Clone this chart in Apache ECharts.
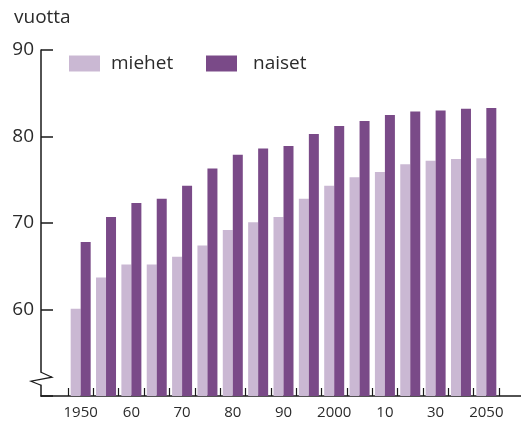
<!DOCTYPE html>
<html>
<head>
<meta charset="utf-8">
<script src="https://cdn.jsdelivr.net/npm/echarts@6/dist/echarts.min.js"></script>
<style>
html,body{margin:0;padding:0;background:#fff;}
#chart{width:521px;height:423px;}
</style>
</head>
<body>
<div id="chart"></div>
<script>
// Data
const categories = ['1950','1955','1960','1965','1970','1975','1980','1985','1990','1995','2000','2005','2010','2020','2030','2040','2050'];
const tickLabels = ['1950','','60','','70','','80','','90','','2000','','10','','30','','2050'];
const miehet = [60.1, 63.7, 65.2, 65.2, 66.1, 67.4, 69.2, 70.1, 70.7, 72.8, 74.3, 75.3, 75.9, 76.8, 77.2, 77.4, 77.5];
const naiset = [67.8, 70.7, 72.3, 72.8, 74.3, 76.3, 77.9, 78.6, 78.9, 80.3, 81.2, 81.8, 82.5, 82.9, 83.0, 83.2, 83.3];
const yTicks = [50, 60, 70, 80, 90];

const FONT = '"Open Sans", "Noto Sans", sans-serif';
const TXT = '#2b2b2b';
const AX = '#1a1a1a';
const C_M = '#cab8d3';
const C_N = '#7a4a88';

const chart = echarts.init(document.getElementById('chart'), null, {renderer: 'canvas'});

const option = {
  animation: false,
  backgroundColor: '#fff',
  textStyle: {fontFamily: FONT},
  title: {
    text: 'vuotta', left: 9, top: 3,
    textStyle: {fontFamily: FONT, fontSize: 19, fontWeight: 'normal', color: TXT}
  },
  legend: [
    {
      data: ['miehet'], left: 64, top: 49, itemWidth: 31, itemHeight: 16,
      icon: 'rect',
      textStyle: {fontFamily: FONT, fontSize: 19, color: TXT, padding: [0, 0, 0, 6]}
    },
    {
      data: ['naiset'], left: 201, top: 49, itemWidth: 31, itemHeight: 16,
      icon: 'rect',
      textStyle: {fontFamily: FONT, fontSize: 19, color: TXT, padding: [0, 0, 0, 11]}
    }
  ],
  grid: [
    {left: 41, right: 0, top: 50, bottom: 27},
    {left: 68, right: 22, top: 50, bottom: 27}
  ],
  xAxis: [
    {
      type: 'value', gridIndex: 0, min: 0, max: 1,
      axisLine: {show: true, onZero: false, lineStyle: {color: AX, width: 1.5}},
      axisTick: {show: false}, axisLabel: {show: false}, splitLine: {show: false}
    },
    {
      type: 'category', gridIndex: 1, data: categories,
      axisLine: {show: false},
      axisTick: {show: true, inside: true, length: 8, interval: 0, lineStyle: {color: AX, width: 1.2}},
      axisLabel: {
        interval: 0, margin: 9, fontFamily: FONT, fontSize: 15, color: TXT,
        formatter: (v, i) => tickLabels[i]
      },
      splitLine: {show: false}
    }
  ],
  yAxis: [
    {
      type: 'value', gridIndex: 0, min: yTicks[0], max: yTicks[yTicks.length - 1], interval: 10,
      axisLine: {show: true, lineStyle: {color: AX, width: 1.5}},
      axisTick: {show: true, inside: true, length: 12, lineStyle: {color: AX, width: 1.5}},
      axisLabel: {
        margin: 7, fontFamily: FONT, fontSize: 19, color: TXT,
        formatter: v => (v === yTicks[0] ? '' : String(v))
      },
      splitLine: {show: false}
    },
    {
      type: 'value', gridIndex: 1, min: yTicks[0], max: yTicks[yTicks.length - 1], interval: 10,
      show: false
    }
  ],
  series: [
    {
      name: 'miehet', type: 'bar', xAxisIndex: 1, yAxisIndex: 1,
      data: miehet, barWidth: 10, barGap: '0%',
      itemStyle: {color: C_M}
    },
    {
      name: 'naiset', type: 'bar', xAxisIndex: 1, yAxisIndex: 1,
      data: naiset, barWidth: 10, barGap: '0%',
      itemStyle: {color: C_N}
    }
  ]
};
chart.setOption(option);

// axis break symbol on the y axis
const ax = chart.convertToPixel({xAxisIndex: 0}, 0);
const cy = chart.convertToPixel({yAxisIndex: 0}, 52);
chart.setOption({
  graphic: [
    {type: 'rect', shape: {x: ax - 3, y: cy - 6, width: 6, height: 12}, style: {fill: '#fff'}, z: 100},
    {type: 'polyline', shape: {points: [[ax, cy - 6.5], [ax + 11, cy - 1.5], [ax - 10, cy + 2.5], [ax, cy + 6.5]]},
     style: {stroke: AX, lineWidth: 1.2, fill: null}, z: 101}
  ]
});
</script>
</body>
</html>
